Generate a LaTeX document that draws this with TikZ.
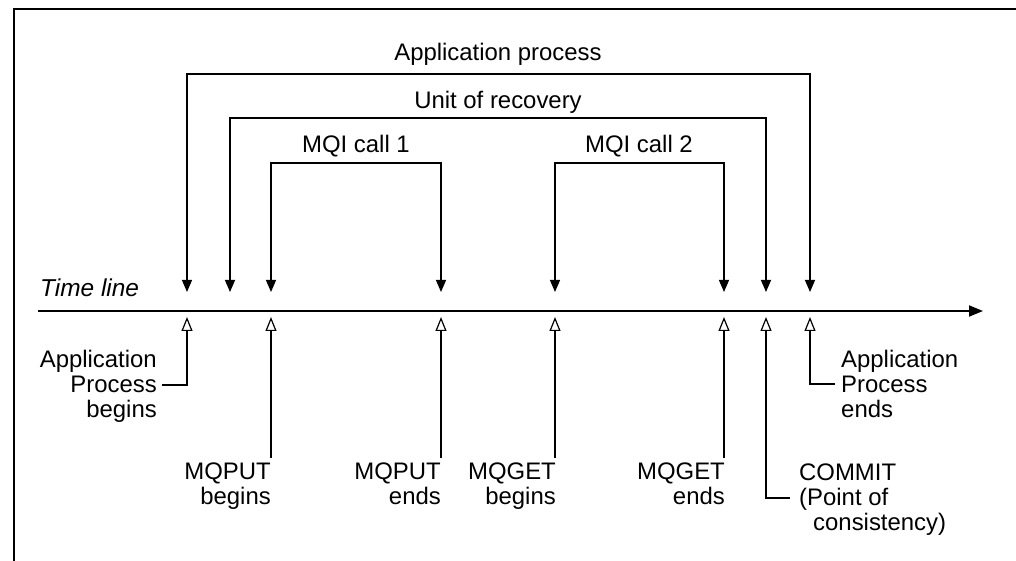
\documentclass[tikz,border=0pt]{standalone}
\usepackage{fontspec}
\setmainfont{Liberation Sans}
\usetikzlibrary{arrows.meta}
\begin{document}
\begin{tikzpicture}[x=1bp,y=-1bp,
  frameline/.style={line width=1.8bp},
  conn/.style={line width=1.2bp, line join=miter},
  timeline/.style={line width=1.8bp, -{Triangle[length=14bp,width=11bp]}},
  span/.style={conn, {Triangle[length=12bp,width=10bp]}-{Triangle[length=12bp,width=10bp]}},
  stem/.style={conn, {Triangle[open,length=14bp,width=11bp,fill=white]}-},
  lbl/.style={font=\fontsize{24}{25}\selectfont, inner sep=0pt},
  toplbl/.style={lbl, anchor=base},
  leftlbl/.style={lbl, align=right, anchor=north east},
  rightlbl/.style={lbl, align=left, anchor=north west}
]
\useasboundingbox (0,0) rectangle (1016,561);

% frame
\draw[frameline] (1016,9) -- (14,9) -- (14,561);

% time line
\coordinate (tl-s) at (38,311);
\coordinate (tl-e) at (983,311);
\draw[timeline] (tl-s) -- (tl-e);
\node[lbl, anchor=base west, font=\fontsize{24.5}{25}\selectfont\itshape] (tlbl) at (40,297) {Time line};

% spans above the time line
\node[toplbl] (lapp) at (498,61) {Application process};
\coordinate (app-tl) at (187,74);  \coordinate (app-tr) at (810,74);
\coordinate (app-s)  at (187,292); \coordinate (app-e)  at (810,292);
\draw[span] (app-s) -- (app-tl) -- (app-tr) -- (app-e);

\node[toplbl] (lur) at (498,109) {Unit of recovery};
\coordinate (ur-tl) at (230,118);  \coordinate (ur-tr) at (766,118);
\coordinate (ur-s)  at (230,292);  \coordinate (ur-e)  at (766,292);
\draw[span] (ur-s) -- (ur-tl) -- (ur-tr) -- (ur-e);

\node[toplbl] (lmq1) at (356,153) {MQI call 1};
\coordinate (mq1-tl) at (271,163); \coordinate (mq1-tr) at (441,163);
\coordinate (mq1-s)  at (271,292); \coordinate (mq1-e)  at (441,292);
\draw[span] (mq1-s) -- (mq1-tl) -- (mq1-tr) -- (mq1-e);

\node[toplbl] (lmq2) at (639,153) {MQI call 2};
\coordinate (mq2-tl) at (555,163); \coordinate (mq2-tr) at (724,163);
\coordinate (mq2-s)  at (555,292); \coordinate (mq2-e)  at (724,292);
\draw[span] (mq2-s) -- (mq2-tl) -- (mq2-tr) -- (mq2-e);

% event labels below the time line
\node[leftlbl]  (lapb) at (157,350) {Application\\Process\\begins};
\node[leftlbl]  (lmpb) at (271,463) {MQPUT\\begins};
\node[leftlbl]  (lmpe) at (441,463) {MQPUT\\ends};
\node[leftlbl]  (lmgb) at (556,463) {MQGET\\begins};
\node[leftlbl]  (lmge) at (725,463) {MQGET\\ends};
\node[rightlbl] (lcom) at (799,464) {COMMIT\\(Point of\\\hspace*{14bp}consistency)};
\node[rightlbl] (lape) at (841,350) {Application\\Process\\ends};

% event markers
\coordinate (m-apb) at (187,317);
\coordinate (m-mpb) at (271,317);
\coordinate (m-mpe) at (441,317);
\coordinate (m-mgb) at (555,317);
\coordinate (m-mge) at (724,317);
\coordinate (m-com) at (766,317);
\coordinate (m-ape) at (810,317);

\coordinate (k-apb) at (162,385);
\coordinate (k-com) at (790,498);
\coordinate (k-ape) at (835,384);

\draw[stem] (m-apb) -- (m-apb |- k-apb) -- (k-apb);
\draw[stem] (m-mpb) -- (m-mpb |- 0,458);
\draw[stem] (m-mpe) -- (m-mpe |- 0,458);
\draw[stem] (m-mgb) -- (m-mgb |- 0,458);
\draw[stem] (m-mge) -- (m-mge |- 0,458);
\draw[stem] (m-com) -- (m-com |- k-com) -- (k-com);
\draw[stem] (m-ape) -- (m-ape |- k-ape) -- (k-ape);
\end{tikzpicture}
\end{document}
